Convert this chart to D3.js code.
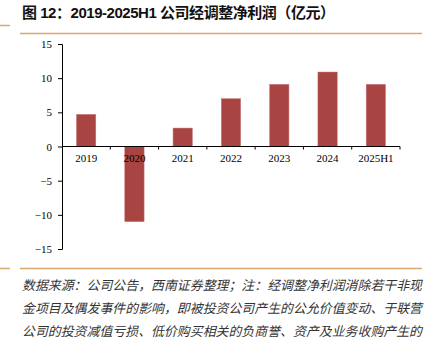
<!DOCTYPE html>
<html><head><meta charset="utf-8">
<script src="https://cdn.jsdelivr.net/npm/d3@7/dist/d3.min.js"></script>
<style>body{margin:0;background:#fff;}svg{display:block;}</style>
</head><body>
<script>
const categories = ["2019","2020","2021","2022","2023","2024","2025H1"];
const values = [4.7, -11.0, 2.7, 7.0, 9.1, 10.9, 9.1];
const yTicks = [15,10,5,0,-5,-10,-15];
const title = "图 12：2019-2025H1 公司经调整净利润（亿元）";
const noteLines = [
  "数据来源：公司公告，西南证券整理；注：经调整净利润消除若干非现",
  "金项目及偶发事件的影响，即被投资公司产生的公允价值变动、于联营",
  "公司的投资减值亏损、低价购买相关的负商誉、资产及业务收购产生的"
];

const W = 430, H = 345;
const svg = d3.select("body").append("svg").attr("width", W).attr("height", H);

const orange = "#d9a66b";
svg.append("line").attr("x1",0).attr("x2",10).attr("y1",25.5).attr("y2",25.5).attr("stroke",orange).attr("stroke-width",1.5);
svg.append("line").attr("x1",20).attr("x2",422).attr("y1",33.5).attr("y2",33.5).attr("stroke",orange).attr("stroke-width",1.5);
svg.append("line").attr("x1",0).attr("x2",10).attr("y1",268.5).attr("y2",268.5).attr("stroke",orange).attr("stroke-width",1.5);
svg.append("line").attr("x1",20).attr("x2",422).attr("y1",268.5).attr("y2",268.5).attr("stroke",orange).attr("stroke-width",1.5);

svg.append("text").attr("x",22).attr("y",18)
  .attr("font-family","'Liberation Sans', 'Noto Sans CJK SC', sans-serif")
  .attr("font-weight","bold").attr("font-size",15).attr("fill","#111")
  .attr("textLength",313).attr("lengthAdjust","spacing")
  .text(title);

const x = d3.scaleBand().domain(categories).range([62, 400]).paddingInner(0.6).paddingOuter(0.3);
const y = d3.scaleLinear().domain([-15, 15]).range([249, 44]);

svg.append("g").selectAll("rect").data(values).join("rect")
  .attr("x",(d,i)=>x(categories[i]))
  .attr("width",x.bandwidth())
  .attr("y",d=>y(Math.max(0,d)))
  .attr("height",d=>Math.abs(y(d)-y(0)))
  .attr("fill","#a84442")
  .attr("stroke","#c77a78").attr("stroke-width",0.5);

const yAxis = svg.append("g").attr("transform","translate(62,0)")
  .call(d3.axisLeft(y).tickValues(yTicks).tickSize(4).tickPadding(6).tickFormat(d3.format("d")));
yAxis.select(".domain").attr("stroke","#000");
yAxis.selectAll("text").attr("font-family","'Liberation Serif', serif").attr("font-size",11).attr("fill","#000");

const xAxisG = svg.append("g").attr("transform",`translate(0,${y(0)})`);
xAxisG.append("line").attr("x1",62).attr("x2",400).attr("stroke","#000");
const bounds = d3.range(categories.length+1).map(i=>62 + i*(338/categories.length));
xAxisG.selectAll("line.tk").data(bounds.slice(1)).join("line").attr("class","tk")
  .attr("x1",d=>d).attr("x2",d=>d).attr("y1",0).attr("y2",3).attr("stroke","#000");
xAxisG.selectAll("text").data(categories).join("text")
  .attr("x",d=>x(d)+x.bandwidth()/2).attr("y",15)
  .attr("text-anchor","middle")
  .attr("font-family","'Liberation Serif', serif").attr("font-size",11).attr("fill","#000")
  .text(d=>d);

svg.selectAll("text.note").data(noteLines).join("text").attr("class","note")
  .attr("x",22).attr("y",(d,i)=>290+i*23)
  .attr("font-family","'Noto Sans CJK SC', sans-serif")
  .attr("font-style","italic").attr("font-size",12.9).attr("fill","#333")
  .attr("textLength",400).attr("lengthAdjust","spacing")
  .text(d=>d);
</script>
</body></html>
